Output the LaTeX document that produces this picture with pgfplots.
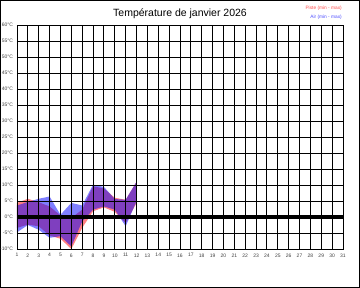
\documentclass[border=0pt]{standalone}
\usepackage{pgfplots}
\pgfplotsset{compat=1.18}
\usepackage{fontspec}
\setmainfont{Liberation Sans}
\begin{document}
\begin{tikzpicture}
\useasboundingbox (0pt,0pt) rectangle (360pt,288pt);
\draw[black, line width=0.8pt] (0.5pt,0.5pt) rectangle (359.5pt,287.5pt);
\node[font=\fontsize{10.5}{12}\selectfont] at (180pt,274pt) {Température de janvier 2026};
\node[anchor=east, text=red!70, font=\fontsize{4.8}{5.5}\selectfont, inner sep=0] at (342pt,280pt) {Piste (min - max)};
\node[anchor=east, text=blue!70, font=\fontsize{4.8}{5.5}\selectfont, inner sep=0] at (342pt,271pt) {Air (min - max)};
\begin{axis}[
  at={(17pt,39pt)}, anchor=south west,
  scale only axis, width=326pt, height=224pt,
  xmin=1, xmax=31, ymin=-10, ymax=60,
  xtick={1,...,31}, ytick={-10,-5,...,60},
  yticklabels={-10°C,-5°C,0°C,5°C,10°C,15°C,20°C,25°C,30°C,35°C,40°C,45°C,50°C,55°C,60°C},
  grid=major, major grid style={black, line width=0.9pt},
  axis line style={black, line width=0.9pt},
  major tick length=0pt,
  tick label style={font=\fontsize{5}{6}\selectfont, text=black!75},
  xticklabel style={yshift=-1pt},
  yticklabel style={xshift=-0.5pt},
  axis on top,
  /pgf/number format/assume math mode=true,
]
\addplot[fill=red, fill opacity=0.5, draw=none] coordinates {
 (1,4.4) (2,5.7) (3,4.6) (4,3.3) (5,0.5) (6,-0.3) (7,2.3) (8,9.6) (9,8.9) (10,6.0) (11,5.4) (12,11)
 (12,4.4) (11,-1.9) (10,1.6) (9,3.0) (8,1.8) (7,-3.4) (6,-10) (5,-6.8) (4,-5.8) (3,-2.9) (2,-2.4) (1,-3.4)
} -- cycle;
\addplot[fill=blue, fill opacity=0.5, draw=none] coordinates {
 (1,3.6) (2,4.7) (3,5.7) (4,6.4) (5,0.7) (6,4.4) (7,3.6) (8,10.1) (9,9.4) (10,5.6) (11,5.4) (12,11)
 (12,4.9) (11,-2.9) (10,2.3) (9,3.3) (8,2.3) (7,-1.4) (6,-9.2) (5,-6.0) (4,-6.5) (3,-4.0) (2,-2.5) (1,-4.8)
} -- cycle;
\addplot[black, line width=3.5pt] coordinates {(1,0) (31,0)};
\end{axis}
\end{tikzpicture}
\end{document}
